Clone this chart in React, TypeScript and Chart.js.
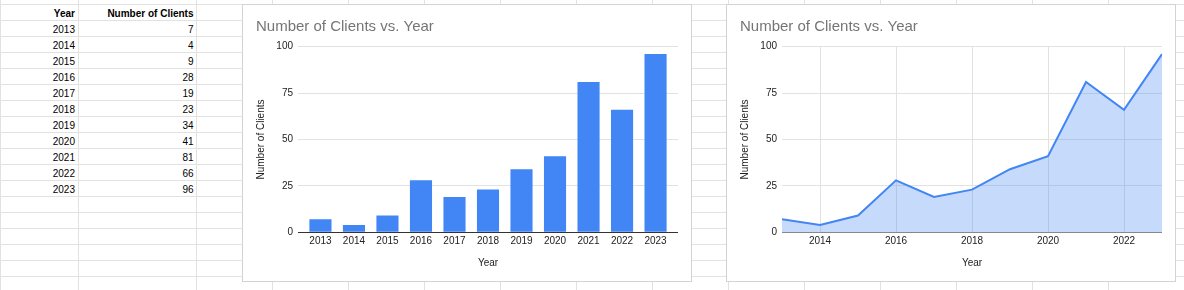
import React, { useEffect, useRef } from "react";
import { Chart, registerables } from "chart.js";

Chart.register(...registerables);

// ---- data ----
const years = [2013, 2014, 2015, 2016, 2017, 2018, 2019, 2020, 2021, 2022, 2023];
const clients = [7, 4, 9, 28, 19, 23, 34, 41, 81, 66, 96];
const yTicks = [0, 25, 50, 75, 100];
const lineXTicks = [2014, 2016, 2018, 2020, 2022];
const chartTitle = "Number of Clients vs. Year";
const xTitle = "Year";
const yTitle = "Number of Clients";
const headerYear = "Year";
const headerClients = "Number of Clients";

// ---- styles ----
const FONT = '"Liberation Sans", Arial, Helvetica, sans-serif';
const BLUE = "#4285F4";
const FILL = "rgba(66,133,244,0.3)";
const GRID = "#e2e2e2";
const TEXT = "#222222";
const CW = 448;
const CH = 276;

function baseOptions(xScale: any, zeroColor: string): any {
  return {
    animation: false,
    responsive: false,
    devicePixelRatio: 1,
    layout: { padding: { left: 13, right: 13, top: 0, bottom: 0 } },
    plugins: {
      legend: { display: false },
      tooltip: { enabled: false },
      title: {
        display: true,
        text: chartTitle,
        align: "start",
        color: "#757575",
        font: { family: FONT, size: 15, weight: "normal", lineHeight: 1.2 },
        padding: { top: 13, bottom: 10.7 },
      },
    },
    scales: {
      x: xScale,
      y: {
        type: "linear",
        min: 0,
        max: 100,
        afterBuildTicks: (s: any) => {
          s.ticks = yTicks.map((v) => ({ value: v }));
        },
        afterFit: (s: any) => {
          s.width = 42;
        },
        ticks: {
          color: TEXT,
          padding: 5,
          font: { family: FONT, size: 10 },
          callback: (v: any) => String(v),
        },
        grid: {
          drawTicks: false,
          color: (ctx: any) => (ctx.tick && ctx.tick.value === 0 ? zeroColor : GRID),
        },
        border: { display: false },
        title: {
          display: true,
          text: yTitle,
          color: TEXT,
          font: { family: FONT, size: 10, lineHeight: 1 },
          padding: { top: 0, bottom: 0 },
        },
      },
    },
  };
}

function xCommon(): any {
  return {
    type: "linear",
    offset: false,
    afterFit: (s: any) => {
      s.height = 48.7;
    },
    ticks: {
      color: TEXT,
      padding: 3,
      maxRotation: 0,
      font: { family: FONT, size: 10 },
      callback: (v: any) => String(v),
    },
    border: { display: false },
    title: {
      display: true,
      text: xTitle,
      color: TEXT,
      font: { family: FONT, size: 10, lineHeight: 1.2 },
      padding: { top: 0, bottom: 12 },
    },
  };
}

function BarChart() {
  const ref = useRef<HTMLCanvasElement | null>(null);
  useEffect(() => {
    if (!ref.current) return;
    const x = {
      ...xCommon(),
      min: 2012.33,
      max: 2023.67,
      afterBuildTicks: (s: any) => {
        s.ticks = years.map((v) => ({ value: v }));
      },
      grid: { display: false, drawTicks: false, offset: false },
    };
    const chart = new Chart(ref.current, {
      type: "bar",
      data: {
        datasets: [
          {
            data: years.map((yr, i) => ({ x: yr, y: clients[i] })),
            backgroundColor: BLUE,
            borderWidth: 0,
            barPercentage: 0.66,
            categoryPercentage: 1,
          } as any,
        ],
      },
      options: baseOptions(x, "#333333"),
    });
    return () => chart.destroy();
  }, []);
  return <canvas ref={ref} width={CW} height={CH} style={{ display: "block", width: CW, height: CH }} />;
}

function AreaChart() {
  const ref = useRef<HTMLCanvasElement | null>(null);
  useEffect(() => {
    if (!ref.current) return;
    const x = {
      ...xCommon(),
      min: years[0],
      max: years[years.length - 1],
      afterBuildTicks: (s: any) => {
        s.ticks = lineXTicks.map((v) => ({ value: v }));
      },
      grid: { display: true, drawTicks: false, color: GRID },
    };
    const chart = new Chart(ref.current, {
      type: "line",
      data: {
        datasets: [
          {
            data: years.map((yr, i) => ({ x: yr, y: clients[i] })),
            borderColor: BLUE,
            backgroundColor: FILL,
            borderWidth: 2,
            fill: "origin",
            pointRadius: 0,
            tension: 0,
          } as any,
        ],
      },
      options: baseOptions(x, "#8a8a8a"),
    });
    return () => chart.destroy();
  }, []);
  return <canvas ref={ref} width={CW} height={CH} style={{ display: "block", width: CW, height: CH }} />;
}

const rowLines: number[] = [];
for (let k = 0; k < 19; k++) rowLines.push(4 + 16 * k);
const colLines: number[] = [0, 78, 196];
for (let xx = 272; xx <= 1184; xx += 76) colLines.push(xx);

export default function App() {
  const cell = (text: string, right: number, width: number, row: number, bold = false) => (
    <div
      key={`${text}-${row}-${right}`}
      style={{
        position: "absolute",
        left: right - width,
        width,
        top: 4 + 16 * row + 2,
        height: 16,
        lineHeight: "16px",
        textAlign: "right",
        fontFamily: FONT,
        fontSize: 10,
        fontWeight: bold ? "bold" : "normal",
        color: "#000",
        whiteSpace: "nowrap",
      }}
    >
      {text}
    </div>
  );
  const box = (left: number, child: React.ReactNode) => (
    <div
      style={{
        position: "absolute",
        left,
        top: 4,
        width: 450,
        height: 278,
        boxSizing: "border-box",
        border: "1px solid #d3d3d3",
        background: "#fff",
      }}
    >
      {child}
    </div>
  );
  return (
    <div
      style={{
        position: "absolute",
        left: 0,
        top: 0,
        width: 1184,
        height: 290,
        overflow: "hidden",
        background: "#fff",
      }}
    >
      {rowLines.map((y) => (
        <div key={"r" + y} style={{ position: "absolute", left: 0, top: y, width: 1184, height: 1, background: "#e2e2e2" }} />
      ))}
      {colLines.map((x) => (
        <div key={"c" + x} style={{ position: "absolute", left: x, top: 0, width: 1, height: 290, background: "#e2e2e2" }} />
      ))}
      {cell(headerYear, 75, 70, 0, true)}
      {cell(headerClients, 193.5, 114, 0, true)}
      {years.map((yr, i) => cell(String(yr), 75, 70, i + 1))}
      {clients.map((c, i) => cell(String(c), 193.5, 114, i + 1))}
      {box(242, <BarChart />)}
      {box(726, <AreaChart />)}
    </div>
  );
}
